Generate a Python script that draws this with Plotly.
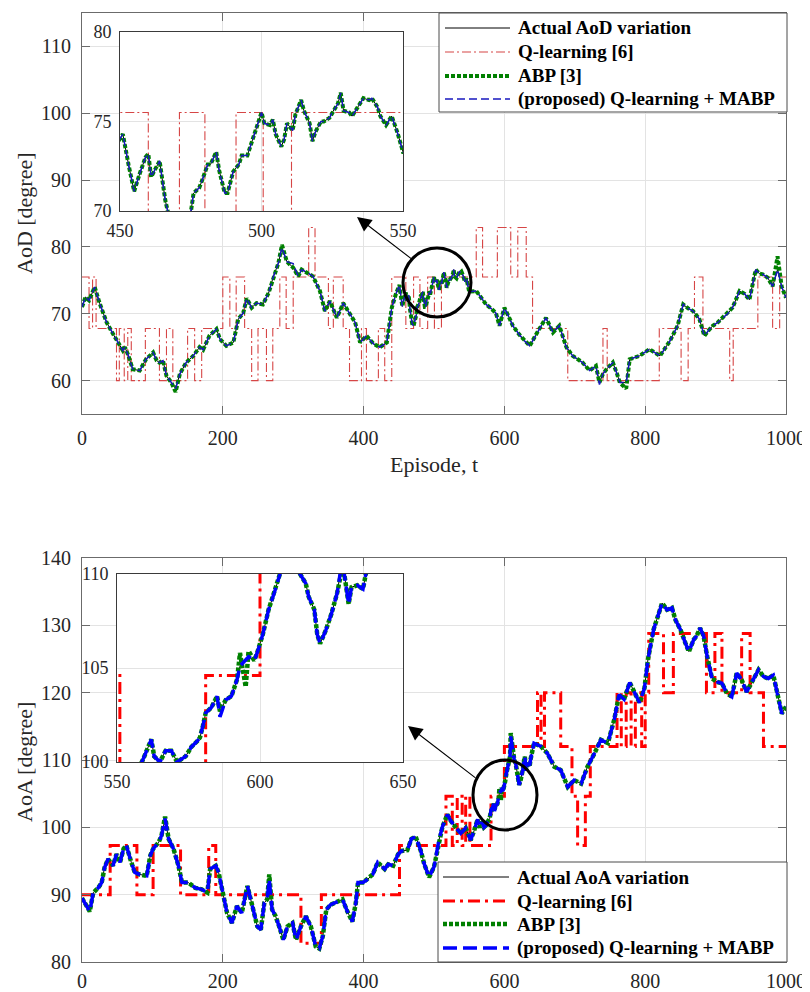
import plotly.graph_objects as go

# page body has an 8px margin, so the figure is drawn 8px in from the window corner
OFF = 8
W, H = 810 - OFF, 992 - OFF

# ---------------- AoD (top panel) data ----------------
aod_episode = [0, 5, 10, 18, 25, 35, 44, 51, 58, 61, 66, 72, 82, 91, 101, 106, 110, 115, 120, 127,
               133, 139, 148, 158, 167, 172, 181, 191, 196, 205, 215, 222, 229, 234, 241, 248, 257,
               265, 272, 279, 284, 291, 300, 307, 312, 321, 328, 338, 345, 352, 362, 371, 378, 388,
               395, 404, 414, 423, 433, 440, 446,
               450, 451, 453, 455, 457, 459, 460, 461, 463, 464, 466, 467, 469, 471, 473, 475, 476,
               478, 479, 481, 482, 484, 485, 487, 488, 490, 492, 493, 495, 497, 499, 500, 501, 503,
               504, 505, 507, 508, 509, 511, 512, 514, 515, 517, 518, 519, 521, 522, 524, 525, 527,
               528, 529, 531, 532, 534, 536, 538, 539, 541, 542, 544, 546, 548, 550,
               560, 567, 574, 581, 588, 593, 600, 606, 612, 621, 628, 636, 645, 652, 659, 669, 678,
               688, 697, 704, 711, 721, 730, 735, 740, 745, 754, 760, 764, 773, 778, 792, 806, 821,
               835, 846, 854, 861, 868, 877, 884, 890, 896, 903, 910, 917, 924, 934, 941, 948, 957,
               962, 967, 974, 981, 988, 994, 1000]
aod_actual = [71.0, 72.5, 72.0, 74.0, 71.6, 68.7, 67.0, 65.7, 64.5, 65.0, 63.7, 61.7, 61.5, 63.2,
              64.2, 63.0, 62.7, 63.0, 60.7, 59.7, 58.8, 61.0, 62.7, 63.7, 65.0, 64.6, 66.7, 67.7,
              66.2, 65.2, 65.7, 69.2, 70.1, 72.3, 70.9, 71.6, 71.4, 73.1, 75.6, 77.6, 79.9, 77.8,
              76.9, 75.6, 76.6, 76.1, 75.6, 73.4, 70.4, 71.9, 69.4, 71.6, 70.4, 68.7, 65.7, 66.7,
              65.5, 65.0, 65.7, 70.9, 73.0,
              74.0, 74.3, 72.6, 71.1, 72.1, 73.0, 73.2, 71.9, 72.5, 72.8, 70.6, 69.9, 68.5, 68.2,
              69.0, 69.9, 71.0, 71.3, 71.7, 72.6, 72.6, 73.3, 72.3, 71.0, 71.0, 72.2, 72.6, 73.1,
              73.1, 74.1, 75.1, 75.5, 74.9, 74.8, 75.1, 74.3, 73.6, 74.0, 74.9, 74.5, 75.4, 76.2,
              75.6, 74.9, 73.9, 74.4, 75.0, 75.0, 75.2, 75.5, 76.0, 76.6, 75.6, 75.5, 75.3, 75.8,
              76.3, 76.2, 76.3, 75.8, 75.3, 74.8, 75.3, 74.4, 73.3,
              73.4, 72.4, 71.4, 70.8, 70.1, 68.2, 70.9, 69.6, 68.2, 66.9, 66.0, 65.2, 66.9, 68.2,
              69.4, 67.2, 68.2, 65.0, 63.7, 63.2, 62.7, 61.5, 62.2, 59.7, 61.0, 61.7, 62.7, 61.0,
              59.7, 59.7, 63.2, 63.7, 64.7, 63.7, 65.9, 68.2, 71.4, 70.8, 70.4, 69.2, 66.7, 67.5,
              68.2, 68.7, 69.4, 70.0, 70.9, 73.4, 73.0, 72.1, 76.6, 76.0, 75.9, 75.4, 74.1, 76.6,
              74.0, 72.4]
aod_abp_dev = {133: -0.5, 284: 0.4, 773: -0.9, 988: 2.0}
aod_prop_dev = {300: 0.6, 735: -0.3}

aod_q_episode = [0, 10, 15, 20, 49, 53, 60, 65, 70, 90, 110, 120, 129, 150, 160, 170, 200, 210,
                 219, 231, 241, 250, 262, 271, 281, 290, 300, 322, 331, 350, 357, 371, 380, 397,
                 404, 421, 430, 440, 460, 471, 480, 491, 500.6, 510.6, 560, 569, 590, 609, 619,
                 631, 640, 690, 740, 746, 820, 851, 861, 870, 882, 920, 925, 960, 981, 991, 1000]
aod_q_level = [75.5, 67.8, 75.5, 67.8, 60.0, 67.8, 60.0, 67.8, 60.0, 67.8, 60.0, 67.8, 60.0, 67.8,
               60.0, 67.8, 75.5, 67.8, 75.5, 67.8, 60.0, 67.8, 60.0, 67.8, 75.5, 67.8, 75.5, 82.9,
               75.5, 67.8, 75.5, 67.8, 60.0, 67.8, 60.0, 67.8, 60.0, 75.5, 67.8, 75.5, 67.8, 75.5,
               67.8, 75.5, 82.9, 75.5, 82.9, 75.5, 82.9, 75.5, 67.8, 60.0, 67.8, 60.0, 67.8, 60.0,
               67.8, 75.5, 67.8, 60.0, 67.8, 75.5, 67.8, 75.5, 75.5]

# ---------------- AoA (bottom panel) data ----------------
aoa_episode = [0, 6, 11, 16, 23, 28, 32, 37, 44, 49, 54, 59, 63, 70, 75, 82, 92, 97, 101, 109,
               113, 118, 123, 130, 137, 142, 151, 161, 170, 178, 182, 190, 194, 201, 206, 213, 220,
               227, 235, 242, 249, 254, 259, 263, 266, 270, 275, 280, 286, 292, 299, 304, 311, 318,
               325, 332, 337, 342, 347, 353, 363, 370, 377, 384, 389, 392, 399, 406, 413, 420, 430,
               435, 442, 449, 454, 462, 468, 474, 481, 486, 493, 500, 507, 512, 519, 523, 530, 538,
               545, 552, 557, 559, 562, 563, 565, 567, 569, 571, 574, 576, 578, 579, 580, 581, 583,
               585, 586, 588, 590, 592, 593, 595, 596, 598, 599, 601, 603, 605, 606, 608, 609, 611,
               614, 616, 617, 619, 620, 621, 623, 625, 627, 628, 629, 631, 632, 634, 636, 637, 642,
               652, 661, 671, 680, 690, 699, 709, 718, 728, 737, 747, 756, 763, 770, 778, 785, 792,
               799, 804, 812, 819, 824, 831, 838, 843, 850, 857, 862, 869, 873, 878, 883, 888, 895,
               902, 909, 916, 923, 930, 937, 944, 954, 961, 968, 975, 982, 987, 994, 1000]
aoa_actual = [89.5, 88.3, 87.5, 90.3, 91.0, 91.8, 94.0, 95.3, 94.3, 96.0, 94.8, 96.8, 97.3, 94.8,
              93.3, 93.0, 92.8, 95.8, 96.8, 97.8, 98.8, 101.3, 98.3, 96.8, 94.3, 91.8, 91.8, 91.0,
              90.8, 90.3, 93.8, 94.3, 93.3, 89.8, 87.3, 85.8, 88.3, 87.3, 91.3, 88.3, 85.3, 84.8,
              88.8, 89.3, 92.3, 87.8, 86.8, 85.3, 83.3, 85.3, 85.8, 83.3, 85.3, 86.8, 85.3, 82.3,
              82.0, 83.8, 87.8, 88.5, 89.0, 89.3, 87.5, 86.0, 88.8, 91.8, 91.8, 92.3, 93.0, 94.8,
              93.8, 94.5, 94.3, 96.0, 96.5, 96.6, 98.3, 98.6, 96.6, 94.6, 92.6, 94.1, 98.1, 100.1,
              101.9, 101.1, 100.1, 99.1, 99.9, 98.1, 99.5, 100.1, 101.2, 100.3, 100.0, 100.6,
              100.6, 100.0, 100.3, 100.8, 101.1, 101.3, 101.9, 102.6, 102.9, 103.5, 102.7, 103.3,
              103.5, 104.4, 105.1, 105.4, 105.6, 105.4, 105.8, 106.8, 108.1, 109.0, 109.5, 110.5,
              113.5, 112.0, 110.0, 109.5, 108.8, 108.1, 106.8, 106.3, 107.0, 107.9, 109.0, 110.0,
              110.5, 108.4, 109.3, 109.4, 109.2, 110.0, 112.5, 112.0, 111.0, 109.0, 108.5, 106.0,
              107.0, 106.5, 109.0, 111.0, 113.0, 112.5, 116.0, 119.7, 119.0, 121.5, 120.0, 118.5,
              120.7, 125.0, 129.4, 131.8, 133.3, 132.3, 132.6, 130.8, 129.4, 127.4, 126.1, 127.9,
              128.4, 129.6, 128.4, 125.4, 122.1, 121.6, 121.4, 119.9, 119.4, 122.9, 121.9, 120.1,
              121.9, 123.4, 122.4, 122.1, 122.6, 120.4, 116.9, 117.9]
aoa_abp_dev = {118: 0.3, 266: 0.7, 593: 0.7, 595: -1.4, 596: 0.3, 609: 0.5}
aoa_prop_dev = {586: -0.3}

aoa_q_episode = [0, 40, 78, 101, 140, 180, 190, 311, 340, 451, 517, 526, 533, 540, 545, 551, 581,
                 600, 647, 652, 657, 680, 696, 704, 715, 722, 760, 766, 773, 780, 786, 795, 800,
                 805, 826, 840, 887, 899, 909, 937, 949, 968, 1000]
aoa_q_level = [90.0, 97.3, 90.0, 97.3, 90.0, 97.3, 90.0, 82.8, 90.0, 97.3, 104.6, 97.3, 104.6,
               97.3, 104.6, 97.3, 104.6, 112.0, 120.0, 112.0, 120.0, 112.0, 104.6, 97.3, 104.6,
               112.0, 120.0, 112.0, 120.0, 112.0, 120.0, 112.0, 120.0, 128.8, 120.0, 128.8, 120.0,
               128.8, 120.0, 128.8, 120.0, 112.0, 112.0]

aod_names = ["Actual AoD variation", "Q-learning [6]", "ABP [3]", "(proposed) Q-learning + MABP"]
aoa_names = ["Actual AoA variation", "Q-learning [6]", "ABP [3]", "(proposed) Q-learning + MABP"]

main_x_ticks = [0, 200, 400, 600, 800, 1000]
aod_y_ticks = [60, 70, 80, 90, 100, 110]
aod_inset_x_ticks = [450, 500, 550]
aod_inset_y_ticks = [70, 75, 80]
aoa_y_ticks = [80, 90, 100, 110, 120, 130, 140]
aoa_inset_x_ticks = [550, 600, 650]
aoa_inset_y_ticks = [100, 105, 110]

# ---------------- styles ----------------
top_styles = [
    dict(color="black", width=1),
    dict(color="rgb(214,70,70)", width=1.1, dash="9px,3px,2px,3px"),
    dict(color="rgb(0,128,0)", width=4, dash="4px,2px"),
    dict(color="rgb(25,25,190)", width=1.5, dash="8px,4px"),
]
bot_styles = [
    dict(color="black", width=1),
    dict(color="rgb(255,0,0)", width=3, dash="12px,5px,3px,5px"),
    dict(color="rgb(0,128,0)", width=4.5, dash="4px,2px"),
    dict(color="rgb(0,0,255)", width=3.5, dash="14px,6px"),
]

def with_dev(eps, vals, dev):
    return [v + dev.get(e, 0.0) for e, v in zip(eps, vals)]

fig = go.Figure()

def add_panel(eps, actual, q_eps, q_lvl, abp_dev, prop_dev, styles, axes):
    abp = with_dev(eps, actual, abp_dev)
    prop = with_dev(eps, actual, prop_dev)
    for xa, ya in axes:
        fig.add_trace(go.Scatter(x=eps, y=actual, mode="lines", line=styles[0],
                                 xaxis=xa, yaxis=ya, showlegend=False, hoverinfo="skip"))
        fig.add_trace(go.Scatter(x=q_eps, y=q_lvl, mode="lines", line=dict(styles[1], shape="hv"),
                                 xaxis=xa, yaxis=ya, showlegend=False, hoverinfo="skip"))
        fig.add_trace(go.Scatter(x=eps, y=abp, mode="lines", line=styles[2],
                                 xaxis=xa, yaxis=ya, showlegend=False, hoverinfo="skip"))
        fig.add_trace(go.Scatter(x=eps, y=prop, mode="lines", line=styles[3],
                                 xaxis=xa, yaxis=ya, showlegend=False, hoverinfo="skip"))

add_panel(aod_episode, aod_actual, aod_q_episode, aod_q_level, aod_abp_dev, aod_prop_dev,
          top_styles, [("x", "y"), ("x2", "y2")])
add_panel(aoa_episode, aoa_actual, aoa_q_episode, aoa_q_level, aoa_abp_dev, aoa_prop_dev,
          bot_styles, [("x3", "y3"), ("x4", "y4")])

def pxx(p):
    return (p - OFF) / W

def pxy(p):
    return 1 - (p - OFF) / H

FONT = "Liberation Serif, Times New Roman, serif"
main_ax = dict(showline=True, linecolor="#6b6b6b", linewidth=1, mirror="ticks", ticks="inside",
               ticklen=8, tickcolor="#6b6b6b", showgrid=True, gridcolor="#e3e3e3", zeroline=False,
               automargin=False, tickfont=dict(family=FONT, size=20, color="#262626"))
inset_ax = dict(showline=True, linecolor="#3a3a3a", linewidth=1, mirror=True, ticks="",
                showgrid=True, gridcolor="#e3e3e3", zeroline=False, automargin=False,
                tickfont=dict(family=FONT, size=18, color="#262626"))

fig.update_layout(
    width=W, height=H, margin=dict(l=0, r=0, t=0, b=0, pad=0, autoexpand=False),
    paper_bgcolor="white", plot_bgcolor="white", showlegend=False,
    xaxis=dict(main_ax, domain=[pxx(82), pxx(786)], range=[0, 1000], tickvals=main_x_ticks,
               anchor="y", ticklabelstandoff=6),
    yaxis=dict(main_ax, domain=[pxy(414), pxy(13)], range=[55, 115], tickvals=aod_y_ticks,
               anchor="x", ticklabelstandoff=6),
    xaxis2=dict(inset_ax, domain=[pxx(120), pxx(403)], range=[450, 550],
                tickvals=aod_inset_x_ticks, anchor="y2", ticklabelstandoff=3),
    yaxis2=dict(inset_ax, domain=[pxy(211), pxy(32)], range=[70, 80],
                tickvals=aod_inset_y_ticks, anchor="x2", ticklabelstandoff=4),
    xaxis3=dict(main_ax, domain=[pxx(82), pxx(786)], range=[0, 1000], tickvals=main_x_ticks,
                anchor="y3", ticklabelstandoff=1),
    yaxis3=dict(main_ax, domain=[pxy(962), pxy(558)], range=[80, 140], tickvals=aoa_y_ticks,
                anchor="x3", ticklabelstandoff=6),
    xaxis4=dict(inset_ax, domain=[pxx(117), pxx(403)], range=[550, 650],
                tickvals=aoa_inset_x_ticks, anchor="y4", ticklabelstandoff=3),
    yaxis4=dict(inset_ax, domain=[pxy(762), pxy(574)], range=[100, 110],
                tickvals=aoa_inset_y_ticks, anchor="x4", ticklabelstandoff=4),
)

shapes = []
annotations = []

# zoom circles
shapes.append(dict(type="circle", xref="paper", yref="paper", x0=pxx(403), x1=pxx(471),
                   y0=pxy(317), y1=pxy(248), line=dict(color="black", width=3), layer="above"))
shapes.append(dict(type="circle", xref="paper", yref="paper", x0=pxx(473), x1=pxx(537),
                   y0=pxy(830), y1=pxy(760), line=dict(color="black", width=3), layer="above"))

# arrows
annotations.append(dict(x=pxx(357), y=pxy(217), xref="paper", yref="paper", ax=56, ay=43,
                        text="", showarrow=True, arrowhead=2, arrowsize=2.6, arrowwidth=1.1,
                        arrowcolor="black"))
annotations.append(dict(x=pxx(408), y=pxy(726), xref="paper", yref="paper", ax=69, ay=53,
                        text="", showarrow=True, arrowhead=2, arrowsize=2.6, arrowwidth=1.1,
                        arrowcolor="black"))

def add_legend(box, rows, sample_x, text_x, names, styles):
    x0, y0, x1, y1 = box
    shapes.append(dict(type="rect", xref="paper", yref="paper", x0=pxx(x0), x1=pxx(x1),
                       y0=pxy(y1), y1=pxy(y0), fillcolor="white",
                       line=dict(color="#4a4a4a", width=1), layer="above"))
    for r, name, st in zip(rows, names, styles):
        shapes.append(dict(type="line", xref="paper", yref="paper", x0=pxx(sample_x[0]),
                           x1=pxx(sample_x[1]), y0=pxy(r), y1=pxy(r), line=st, layer="above"))
        annotations.append(dict(x=pxx(text_x), y=pxy(r), xref="paper", yref="paper",
                                text="<b>" + name + "</b>", showarrow=False, xanchor="left",
                                yanchor="middle",
                                font=dict(family=FONT, size=19, color="black")))

add_legend((439, 13, 787, 112), [28, 52, 76, 99], (445, 510), 516, aod_names, top_styles)
add_legend((438, 862, 787, 962), [877, 901, 924, 948], (443, 509), 515, aoa_names, bot_styles)

# axis titles
title_font = dict(family=FONT, size=22, color="#262626")
annotations.append(dict(x=pxx(24), y=pxy(213), xref="paper", yref="paper", text="AoD [degree]",
                        textangle=-90, showarrow=False, xanchor="center", yanchor="middle",
                        font=title_font))
annotations.append(dict(x=pxx(434), y=pxy(465), xref="paper", yref="paper", text="Episode, t",
                        showarrow=False, xanchor="center", yanchor="middle", font=title_font))
annotations.append(dict(x=pxx(24), y=pxy(762), xref="paper", yref="paper", text="AoA [degree]",
                        textangle=-90, showarrow=False, xanchor="center", yanchor="middle",
                        font=title_font))

fig.update_layout(shapes=shapes, annotations=annotations)
fig.write_html("out.html")
